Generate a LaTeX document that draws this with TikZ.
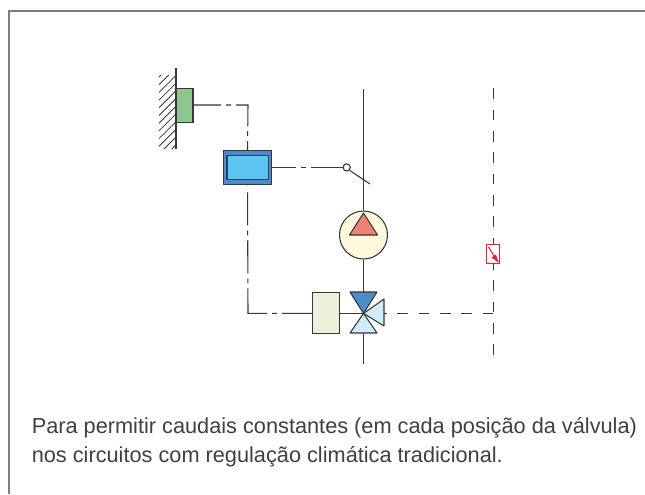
\documentclass[tikz,border=0pt]{standalone}
\usepackage{fontspec}
\setmainfont{Liberation Sans}
\definecolor{lineg}{RGB}{55,55,55}
\definecolor{frameg}{RGB}{125,125,125}
\definecolor{greenf}{RGB}{143,197,143}
\definecolor{blueo}{RGB}{78,140,200}
\definecolor{bluei}{RGB}{92,197,242}
\definecolor{navyl}{RGB}{35,65,100}
\definecolor{creamf}{RGB}{255,248,220}
\definecolor{redf}{RGB}{240,128,122}
\definecolor{olivef}{RGB}{236,241,220}
\definecolor{lightb}{RGB}{210,235,250}
\definecolor{redl}{RGB}{235,30,50}
\tikzset{
  x=0.75pt,y=-0.75pt,
  ln/.style={draw=lineg,line width=0.8pt},
  shp/.style={draw=lineg,line width=0.8pt},
  dsh/.style={ln,dash pattern=on 7.9pt off 8.1pt},
  box/.style={shp,minimum width=0pt,minimum height=0pt,inner sep=0pt,outer sep=0pt,rectangle},
  txt/.style={anchor=base west,inner sep=0pt,font=\fontsize{16.3pt}{20pt}\selectfont,text=black!75},
}
\begin{document}
\begin{tikzpicture}
\useasboundingbox (0,0) rectangle (645,494);
\fill[white] (0,0) rectangle (645,494);
\coordinate (f1) at (645,11);
\coordinate (f2) at (9,11);
\coordinate (f3) at (9,494);
\draw[frameg,line width=1.2pt] (f1) -- (f2) -- (f3);
% wall
\coordinate (w1) at (176,68);
\coordinate (w2) at (176,149);
\begin{scope}
\clip (159,75) rectangle (176,148);
\foreach \y in {60,67.7,...,150}{
  \draw[lineg,line width=0.6pt] (176,\y) -- ++(-24,24);
}
\end{scope}
\draw[lineg,line width=1.1pt] (w1) -- (w2);
% nodes
\node[box,fill=greenf,minimum width=12.75pt,minimum height=25.5pt] (sensor) at (184.5,105.5) {};
\node[box,fill=blueo,minimum width=36.3pt,minimum height=25.5pt] (ctrl) at (247.5,167.4) {};
\node[box,draw=navyl,fill=bluei,minimum width=30.8pt,minimum height=18pt] (ctrli) at (247.5,167.4) {};
\node[circle,draw=lineg,line width=0.8pt,fill=white,inner sep=0pt,minimum size=5.4pt] (sw) at (346.7,167.4) {};
\coordinate (swe) at (370,184);
\node[circle,shp,fill=creamf,inner sep=0pt,minimum size=36pt] (pump) at (363.5,235) {};
\node[box,fill=olivef,minimum width=20.8pt,minimum height=30.8pt] (act) at (326,312.7) {};
\coordinate (vc) at (363.5,313.4);
\coordinate (top) at (363.5,89);
\coordinate (bot) at (363.5,364);
\coordinate (vt) at (363.5,292);
\coordinate (vb) at (363.5,333);
\coordinate (vr) at (384,313.4);
\coordinate (c1) at (248,105);
\coordinate (c2) at (248,313.4);
\coordinate (r1) at (493.3,88);
\coordinate (r2) at (493.3,355);
\coordinate (r3) at (493.3,313.4);
% connectors
\draw[ln,dash pattern=on 21pt off 3.75pt on 3.75pt off 3.75pt on 24.75pt off 3.75pt on 3.75pt off 3.75pt on 24.75pt] (sensor.east |- c1) -- (c1) -- (ctrl.north);
\draw[ln,dash pattern=on 18pt off 3.75pt on 3.75pt off 3.75pt on 30pt] (ctrl.east) -- (sw.west);
\draw[ln] (sw.south east) -- (swe);
\draw[ln] (top) -- (pump.north);
\draw[ln] (pump.south) -- (vt);
\draw[ln] (vb) -- (bot);
\draw[ln,dash pattern=on 0.75pt off 5.25pt on 24.75pt off 3.75pt on 3.75pt off 3.75pt on 24.75pt off 3.75pt on 3.75pt off 3.75pt on 33pt off 3.75pt on 3.75pt off 3.75pt on 30pt] (ctrl.south) -- (c2) -- (c2 -| act.west);
\draw[ln] (act.east |- vc) -- (vc);
\draw[dsh] (r3) -- (vr);
\draw[dsh] (r2) -- (r1);
\node[box,draw=redl,fill=white,minimum width=9.8pt,minimum height=14.5pt] (rs) at (493,254) {};
% pump triangle
\draw[shp,fill=redf,line join=round] (363.5,213) -- (377.5,235) -- (349.5,235) -- cycle;
% valve
\draw[shp,fill=blueo,line join=round] (vc) -- (377,292) -- (350,292) -- cycle;
\draw[shp,fill=lightb,line join=round] (vc) -- (377,333) -- (350,333) -- cycle;
\draw[shp,fill=lightb,line join=round] (vc) -- (384,299) -- (384,326) -- cycle;
% red arrow
\coordinate (ra) at (488.5,247);
\coordinate (rb) at (498,262);
\draw[redl,line width=0.8pt] (ra) -- (rb);
\fill[redl] (498.5,262.5) -- (491.5,257.5) -- (496,254.5) -- cycle;
% text
\node[txt] (t1) at (31.5,433) {Para permitir caudais constantes (em cada posição da válvula)};
\node[txt] (t2) at (31.5,462) {nos circuitos com regulação climática tradicional.};
\end{tikzpicture}
\end{document}
